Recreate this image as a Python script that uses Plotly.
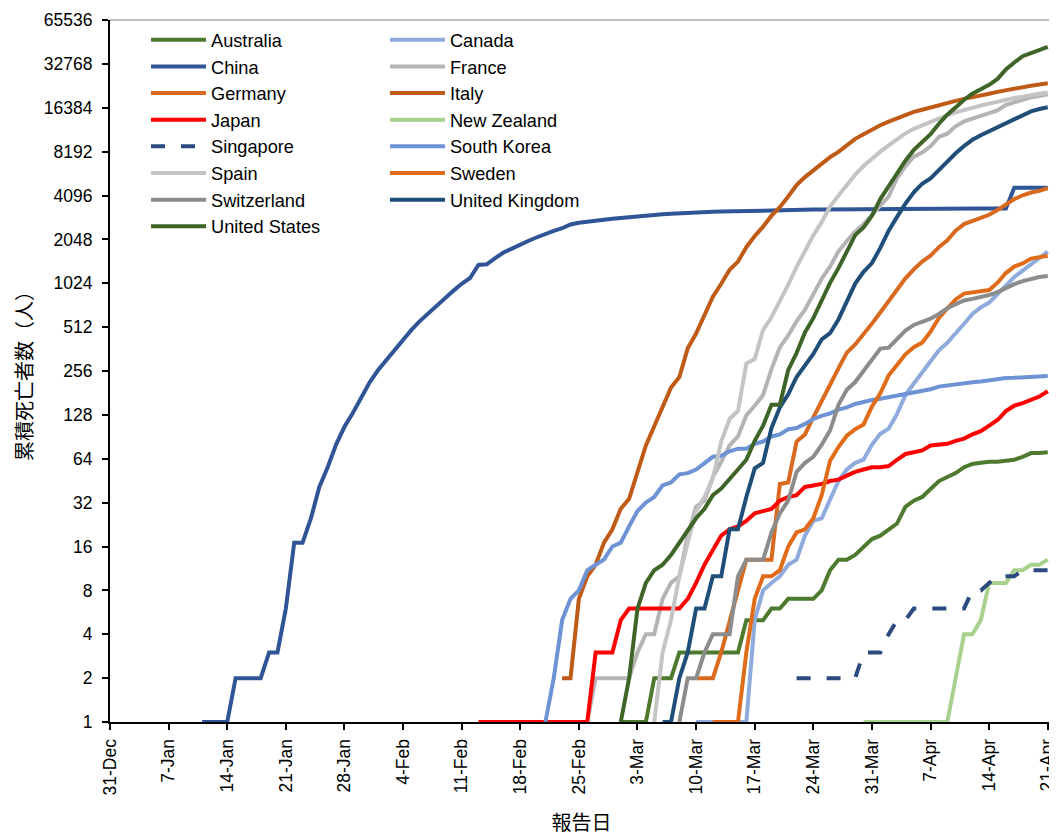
import pandas as pd
import plotly.graph_objects as go

# ---------------- data: cumulative deaths by report date ----------------
australia_start = "2020-03-01"
australia = [1, 1, 1, 1, 2, 2, 2, 3, 3, 3, 3, 3, 3, 3, 3, 5, 5, 5, 6, 6, 7, 7, 7, 7,
             8, 11, 13, 13, 14, 16, 18, 19, 21, 23, 30, 33, 35, 40, 45, 48, 51, 56,
             59, 60, 61, 61, 62, 63, 66, 70, 70, 71]

canada_start = "2020-03-10"
canada = [1, 1, 1, 1, 1, 1, 1, 5, 8, 9, 10, 12, 13, 19, 24, 25, 33, 45, 54, 60,
          63, 80, 95, 103, 130, 175, 210, 250, 300, 355, 400, 460, 540, 630, 700,
          755, 860, 1000, 1130, 1250, 1380, 1520, 1690]

china_start = "2020-01-11"
china = [1, 1, 1, 1, 2, 2, 2, 2, 3, 3, 6, 17, 17, 25, 41, 56, 80, 106, 132, 170, 213,
         259, 304, 361, 425, 490, 563, 636, 722, 811, 908, 1016, 1113, 1367, 1380,
         1523, 1665, 1770, 1868, 2004, 2118, 2236, 2345, 2442, 2592, 2663, 2715, 2744,
         2788, 2835, 2870, 2912, 2943, 2981, 3012, 3042, 3070, 3097, 3119, 3136, 3158,
         3169, 3176, 3189, 3199, 3213, 3226, 3237, 3245, 3249, 3253, 3261, 3270, 3277,
         3281, 3287, 3292, 3295, 3300, 3304, 3305, 3312, 3318, 3322, 3326, 3331, 3331,
         3333, 3335, 3337, 3339, 3339, 3341, 3341, 3342, 3342, 3342, 4632, 4632, 4632,
         4632, 4632]

france_start = "2020-02-15"
france = [1, 1, 1, 1, 1, 1, 1, 1, 1, 1, 1, 1, 2, 2, 2, 2, 2, 3, 4, 4, 7, 9, 10, 19, 30,
          33, 48, 61, 79, 91, 127, 148, 175, 264, 372, 450, 562, 674, 860, 1100, 1331,
          1696, 1995, 2314, 2606, 3024, 3523, 4032, 5387, 6507, 7560, 8078, 8911,
          10328, 10869, 12210, 13197, 13832, 14393, 14967, 15729, 17167, 17920, 18681,
          19323, 19718, 20265]

germany_start = "2020-03-10"
germany = [2, 2, 2, 3, 5, 8, 13, 13, 13, 13, 43, 44, 84, 94, 123, 157, 206, 267, 342,
           389, 455, 541, 645, 775, 931, 1107, 1275, 1444, 1584, 1810, 2016, 2349, 2607,
           2736, 2871, 3022, 3254, 3569, 3868, 4110, 4294, 4404, 4598]

italy_start = "2020-02-23"
italy = [2, 2, 7, 10, 12, 17, 21, 29, 34, 52, 79, 107, 148, 197, 233, 366, 463, 631,
         827, 1016, 1266, 1441, 1809, 2158, 2503, 2978, 3405, 4032, 4825, 5476, 6077,
         6820, 7503, 8165, 9134, 10023, 10779, 11591, 12428, 13155, 13915, 14681,
         15362, 15887, 16523, 17127, 17669, 18279, 18849, 19468, 19899, 20465, 21067,
         21645, 22170, 22745, 23227, 23660, 24114]

japan_start = "2020-02-13"
japan = [1, 1, 1, 1, 1, 1, 1, 1, 1, 1, 1, 1, 1, 1, 3, 3, 3, 5, 6, 6, 6, 6, 6, 6, 6, 7,
         9, 12, 15, 19, 21, 22, 24, 27, 28, 29, 33, 35, 36, 41, 42, 43, 45, 46, 49, 52,
         54, 56, 56, 57, 63, 69, 71, 73, 79, 80, 81, 85, 88, 94, 99, 108, 118, 136, 148,
         154, 161, 171, 186]

new_zealand_start = "2020-03-30"
new_zealand = [1, 1, 1, 1, 1, 1, 1, 1, 1, 1, 1, 2, 4, 4, 5, 9, 9, 9, 11, 11, 12, 12, 13]

singapore_start = "2020-03-22"
singapore = [2, 2, 2, 2, 2, 2, 2, 2, 3, 3, 3, 4, 5, 5, 6, 6, 6, 6, 6, 6, 6, 8, 8, 9,
             10, 10, 10, 11, 11, 11, 11]

south_korea_start = "2020-02-21"
south_korea = [1, 2, 5, 7, 8, 11, 12, 13, 16, 17, 22, 28, 32, 35, 42, 44, 50, 51, 54,
               60, 66, 67, 72, 75, 75, 81, 84, 91, 94, 102, 104, 111, 120, 126, 131,
               139, 144, 152, 158, 162, 165, 169, 174, 177, 183, 186, 192, 200, 204,
               208, 211, 214, 217, 222, 225, 229, 230, 232, 234, 236, 237]

spain_start = "2020-03-05"
spain = [1, 3, 5, 10, 17, 28, 35, 47, 84, 120, 136, 288, 309, 491, 598, 767, 1002,
         1326, 1720, 2182, 2696, 3434, 4089, 4858, 5690, 6528, 7340, 8189, 9053,
         10003, 10935, 11744, 12418, 13055, 13798, 14555, 15238, 15843, 16353, 16972,
         17489, 18056, 18579, 19130, 19478, 20043, 20453, 20852]

sweden_start = "2020-03-12"
sweden = [1, 1, 1, 1, 3, 7, 10, 10, 11, 16, 20, 21, 25, 36, 62, 77, 92, 102, 110, 146,
          180, 239, 282, 333, 373, 401, 477, 591, 687, 793, 870, 887, 899, 919, 1033,
          1203, 1333, 1400, 1511, 1540, 1580]

switzerland_start = "2020-03-08"
switzerland = [1, 2, 2, 3, 4, 4, 4, 10, 13, 13, 13, 20, 27, 33, 52, 60, 66, 80, 100,
               150, 190, 215, 255, 300, 365, 370, 420, 485, 530, 560, 585, 630, 690,
               735, 780, 800, 820, 850, 890, 950, 1010, 1060, 1100, 1130, 1150]

united_kingdom_start = "2020-03-06"
united_kingdom = [1, 1, 2, 3, 6, 6, 10, 10, 21, 21, 35, 55, 60, 104, 144, 177, 233, 281,
                  335, 422, 465, 578, 759, 1019, 1228, 1408, 1789, 2352, 2921, 3605,
                  4313, 4934, 5373, 6159, 7097, 7978, 8958, 9875, 10612, 11329, 12107,
                  12868, 13729, 14576, 15464, 16060, 16509]

united_states_start = "2020-03-01"
united_states = [1, 2, 6, 9, 11, 12, 14, 17, 21, 25, 29, 36, 40, 47, 54, 63, 85, 108,
                 150, 150, 260, 340, 471, 590, 780, 1030, 1300, 1700, 2190, 2470, 2980,
                 3870, 4760, 5930, 7090, 8410, 9620, 10780, 12720, 14700, 16480, 18590,
                 20460, 22020, 23530, 25830, 30000, 33500, 37000, 38900, 40900, 42800]

# ---------------- axis ticks ----------------
x_tick_dates = ["2019-12-31", "2020-01-07", "2020-01-14", "2020-01-21", "2020-01-28",
                "2020-02-04", "2020-02-11", "2020-02-18", "2020-02-25", "2020-03-03",
                "2020-03-10", "2020-03-17", "2020-03-24", "2020-03-31", "2020-04-07",
                "2020-04-14", "2020-04-21"]
x_tick_labels = ["31-Dec", "7-Jan", "14-Jan", "21-Jan", "28-Jan", "4-Feb", "11-Feb",
                 "18-Feb", "25-Feb", "3-Mar", "10-Mar", "17-Mar", "24-Mar", "31-Mar",
                 "7-Apr", "14-Apr", "21-Apr"]
y_tick_values = [1, 2, 4, 8, 16, 32, 64, 128, 256, 512, 1024, 2048, 4096, 8192,
                 16384, 32768, 65536]
y_tick_labels = [str(v) for v in y_tick_values]

# ---------------- series table ----------------
series = [
    ("Australia", australia_start, australia, "#4E7A2F", "solid", "legend"),
    ("Canada", canada_start, canada, "#8FAADC", "solid", "legend2"),
    ("China", china_start, china, "#2F5597", "solid", "legend"),
    ("France", france_start, france, "#B4B4B4", "solid", "legend2"),
    ("Germany", germany_start, germany, "#D9691E", "solid", "legend"),
    ("Italy", italy_start, italy, "#C05A17", "solid", "legend2"),
    ("Japan", japan_start, japan, "#FF0000", "solid", "legend"),
    ("New Zealand", new_zealand_start, new_zealand, "#A9D18E", "solid", "legend2"),
    ("Singapore", singapore_start, singapore, "#2B4A80", "14px,16px", "legend"),
    ("South Korea", south_korea_start, south_korea, "#6D93D5", "solid", "legend2"),
    ("Spain", spain_start, spain, "#C4C4C4", "solid", "legend"),
    ("Sweden", sweden_start, sweden, "#E06C1A", "solid", "legend2"),
    ("Switzerland", switzerland_start, switzerland, "#8C8C8C", "solid", "legend"),
    ("United Kingdom", united_kingdom_start, united_kingdom, "#1F4E79", "solid", "legend2"),
    ("United States", united_states_start, united_states, "#3F6427", "solid", "legend"),
]

FONT = "Liberation Sans, Arial, Noto Sans CJK JP, sans-serif"
CJK = "Noto Sans CJK JP, Liberation Sans, sans-serif"

fig = go.Figure()
for name, start, vals, color, dash, leg in series:
    dates = pd.date_range(start, periods=len(vals), freq="D")
    fig.add_trace(go.Scatter(
        x=dates, y=vals, mode="lines", name=name,
        line=dict(color=color, width=4, dash=dash),
        legend=leg,
    ))

legend_common = dict(
    font=dict(family=FONT, size=18.2, color="black"),
    bgcolor="rgba(0,0,0,0)", borderwidth=0,
    orientation="v", xanchor="left", yanchor="top",
    itemwidth=55, tracegroupgap=0,
)

# the page body adds an 8px offset, so the figure is sized to fill the window
fig.update_layout(
    width=1049, height=828, autosize=False,
    margin=dict(l=102, r=4, t=12, b=114, autoexpand=False),
    paper_bgcolor="white", plot_bgcolor="white",
    font=dict(family=FONT, size=17, color="black"),
    showlegend=True,
    legend=dict(x=0.0382, y=0.998, **legend_common),
    legend2=dict(x=0.2916, y=0.998, **legend_common),
    xaxis=dict(
        type="date", automargin=False,
        range=["2019-12-31", "2020-04-21 15:00"],
        tickmode="array", tickvals=x_tick_dates, ticktext=x_tick_labels,
        tickangle=-90, ticks="outside", ticklen=6, tickwidth=1.5, tickcolor="black",
        ticklabelstandoff=2, ticklabeloverflow="allow",
        showline=True, linecolor="black", linewidth=2, showgrid=False, zeroline=False,
        tickfont=dict(family=FONT, size=17.5, color="black"),
        title=dict(text="報告日", font=dict(family=CJK, size=20, color="black"),
                   standoff=25),
    ),
    yaxis=dict(
        type="log", range=[0, 4.81648], automargin=False,
        tickmode="array", tickvals=y_tick_values, ticktext=y_tick_labels,
        ticks="outside", ticklen=6, tickwidth=1.5, tickcolor="black",
        ticklabelstandoff=6,
        showline=True, linecolor="black", linewidth=2, showgrid=False, zeroline=False,
        tickfont=dict(family=FONT, size=17.5, color="black"),
        title=dict(text="累積死亡者数（人）", font=dict(family=CJK, size=20, color="black"),
                   standoff=6),
    ),
    shapes=[
        dict(type="line", xref="paper", yref="paper", x0=0, x1=1, y0=1, y1=1,
             line=dict(color="#A6A6A6", width=1.5)),
        dict(type="line", xref="paper", yref="paper", x0=1, x1=1, y0=0, y1=1,
             line=dict(color="#A6A6A6", width=1.5)),
    ],
)

fig.write_html("out.html")
